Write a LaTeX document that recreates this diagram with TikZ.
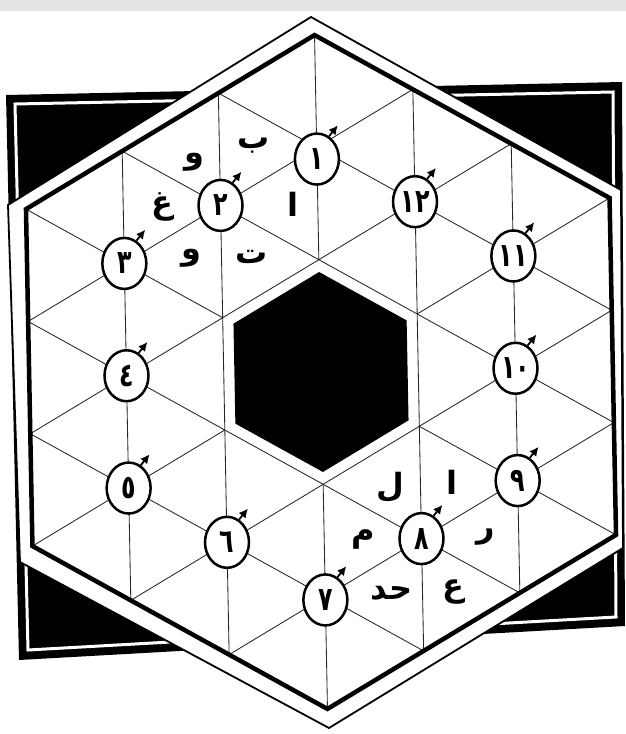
\documentclass[tikz,border=0pt]{standalone}
\usepackage{fontspec}
\usetikzlibrary{arrows.meta,shapes.geometric}
\newfontfamily\arabicfont[Script=Arabic]{DejaVu Sans Bold}
\newfontfamily\digitfont[Script=Arabic,FakeStretch=0.72]{DejaVu Sans Bold}
\TeXXeTstate=1
\begin{document}
\begin{tikzpicture}[x=1pt,y=-1pt,
  gridline/.style={line width=0.85pt, black!85},
  numcircle/.style={ellipse, draw, line width=2.5pt, fill=white, minimum width=44pt, minimum height=51pt, inner sep=0pt, font=\digitfont\fontsize{33}{33}\selectfont},
  letter/.style={font=\arabicfont\fontsize{32}{32}\selectfont, inner sep=0pt},
  marker/.style={-{Latex[length=9pt,width=9pt]}, line width=1.8pt}
]
\useasboundingbox (0,0) rectangle (626,734);
\fill[white] (0,0) rectangle (626,734);
\fill[black!11] (0,0) rectangle (626,11);
% black frame behind
\fill[black] (6,95) -- (622,82) -- (625,626) -- (19,660) -- cycle;
\draw[white, line width=3pt] (15,104) -- (613,92) -- (616,617) -- (28,650) -- cycle;
% outer hexagon
\draw[line width=1.8pt, fill=white, line join=miter] (311,17) -- (621,190) -- (623,548) -- (329,728) -- (20,562) -- (8,205) -- cycle;
\begin{scope}[shift={(321,372)}, x=1pt, y=1pt, rotate=1.1]
  % inner hexagon area
  \fill[white] (90:337) -- (150:337) -- (210:337) -- (270:337) -- (330:337) -- (30:337) -- cycle;
  % lattice
  \foreach \r in {0,60,120} {
    \begin{scope}[rotate=\r]
      \draw[gridline] (0,112.33) -- (0,337) (0,-112.33) -- (0,-337)
        (97.28,-280.83) -- (97.28,280.83) (-97.28,-280.83) -- (-97.28,280.83)
        (194.56,-224.67) -- (194.56,224.67) (-194.56,-224.67) -- (-194.56,224.67);
    \end{scope}
  }
  \draw[line width=4.5pt, line join=miter] (90:337) -- (150:337) -- (210:337) -- (270:337) -- (330:337) -- (30:337) -- cycle;
  % central black hexagon
  \fill[black] (90:100) -- (150:100) -- (210:100) -- (270:100) -- (330:100) -- (30:100) -- cycle;
  % lattice points of the ring
  \coordinate (p1) at (0,213);
  \coordinate (p2) at (-97.28,168.5);
  \coordinate (p3) at (150:224.67);
  \coordinate (p4) at (-194.56,0);
  \coordinate (p5) at (210:224.67);
  \coordinate (p6) at (-97.28,-168.5);
  \coordinate (p7) at (0,-228);
  \coordinate (p8) at (97.28,-168.5);
  \coordinate (p9) at (330:224.67);
  \coordinate (p10) at (194.56,0);
  \coordinate (p11) at (30:224.67);
  \coordinate (p12) at (97.28,168.5);
  % letters round 2 and 8
  \node[letter] (l2a) at ([shift={(60:68)}]p2) {\beginR ب\endR};
  \node[letter] (l2b) at ([shift={(0:72)}]p2) {\beginR ا\endR};
  \node[letter] (l2c) at ([shift={(-60:60)}]p2) {\beginR ت\endR};
  \node[letter] (l2d) at ([shift={(-120:60)}]p2) {\beginR و\endR};
  \node[letter] (l2e) at ([shift={(180:58)}]p2) {\beginR غ\endR};
  \node[letter] (l2f) at ([shift={(120:50)}]p2) {\beginR و\endR};
  \node[letter] (l8a) at ([shift={(120:60)}]p8) {\beginR ل\endR};
  \node[letter] (l8b) at ([shift={(60:64)}]p8) {\beginR ا\endR};
  \node[letter] (l8c) at ([shift={(0:64)}]p8) {\beginR ر\endR};
  \node[letter] (l8d) at ([shift={(-60:62)}]p8) {\beginR ع\endR};
  \node[letter] (l8e) at ([shift={(-120:62)}]p8) {\beginR حد\endR};
  \node[letter] (l8f) at ([shift={(180:58)}]p8) {\beginR م\endR};
  % numbered circles
  \foreach \i/\t in {1/١,2/٢,3/٣,4/٤,5/٥,6/٦,7/٧,8/٨,9/٩,10/١٠,11/١١,12/١٢} {
    \node[numcircle] (c\i) at (p\i) {\t};
    \draw[marker] (c\i.62) -- ++(50:14);
  }
\end{scope}
\end{tikzpicture}
\end{document}
